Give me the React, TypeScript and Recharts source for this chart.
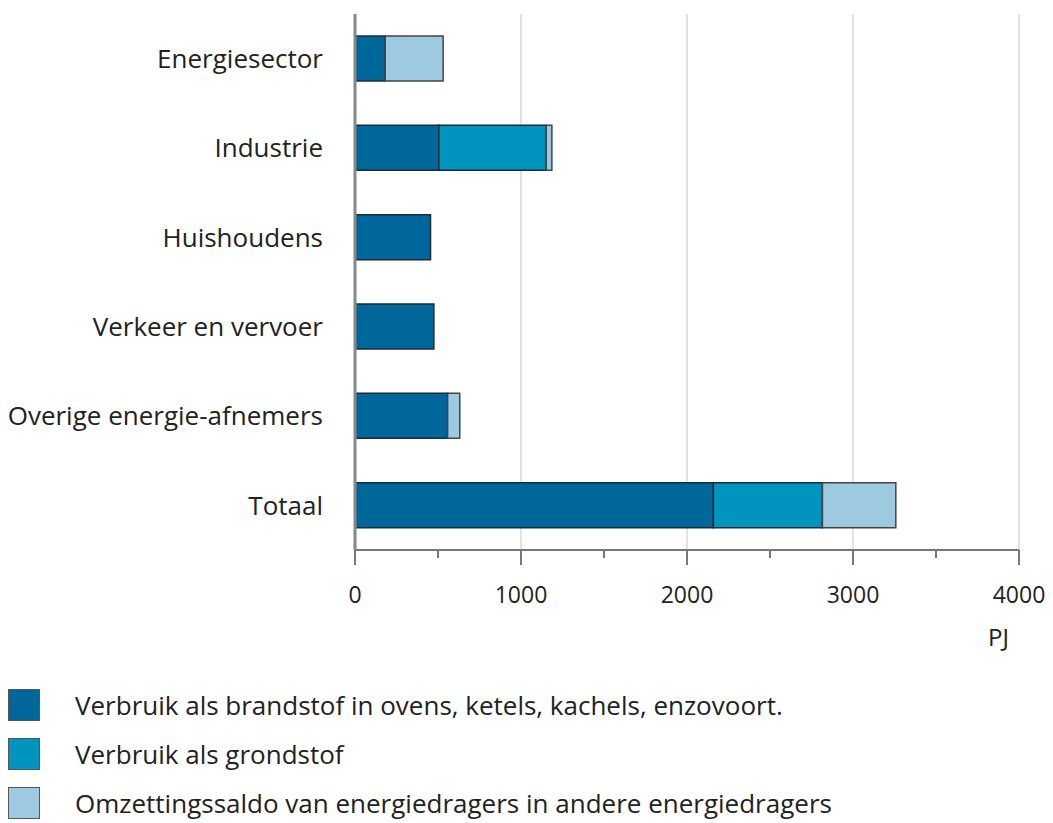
import React from "react";
import {
  BarChart, Bar, XAxis, YAxis, CartesianGrid,
} from "recharts";

document.body.style.margin = "0";

const sectoren = [
  "Energiesector",
  "Industrie",
  "Huishoudens",
  "Verkeer en vervoer",
  "Overige energie-afnemers",
  "Totaal",
];
const brandstof = [182, 505, 455, 475, 558, 2159];
const grondstof = [0, 647, 0, 0, 0, 657];
const omzetting = [349, 34, 0, 0, 73, 442];

const xTicks = [0, 500, 1000, 1500, 2000, 2500, 3000, 3500, 4000];
const xLabels = ["0", "1000", "2000", "3000", "4000"];
const gridValues = [1000, 2000, 3000, 4000];

const legendItems = [
  { name: "Verbruik als brandstof in ovens, ketels, kachels, enzovoort.", color: "#00679b" },
  { name: "Verbruik als grondstof", color: "#0094bf" },
  { name: "Omzettingssaldo van energiedragers in andere energiedragers", color: "#9ecae1" },
];

const data = sectoren.map((s, i) => ({
  sector: s,
  brandstof: brandstof[i],
  grondstof: grondstof[i],
  omzetting: omzetting[i],
}));

const FONT = "'Open Sans', sans-serif";

function XTick(props: any) {
  const { x, y, payload } = props;
  const label = xLabels.includes(String(payload.value));
  return (
    <g>
      <line x1={x} x2={x} y1={y} y2={y + (label ? 15 : 8)} stroke="#777" strokeWidth={2} />
      {label && (
        <text x={x} y={y + 53} textAnchor="middle" fontSize={23} fill="#222" fontFamily={FONT}>
          {payload.value}
        </text>
      )}
    </g>
  );
}

export default function App() {
  return (
    <div style={{ position: "relative", width: 1053, height: 823, background: "#fff", fontFamily: FONT }}>
      <BarChart
        width={1053}
        height={660}
        data={data}
        layout="vertical"
        margin={{ top: 14, right: 34, bottom: 50, left: 0 }}
        barSize={45}
      >
        <CartesianGrid horizontal={false} verticalValues={gridValues} stroke="#e2e2e2" strokeWidth={2} />
        <XAxis
          type="number"
          domain={[0, 4000]}
          ticks={xTicks}
          interval={0}
          height={60}
          tickSize={0}
          tickMargin={0}
          tick={<XTick />}
          axisLine={{ stroke: "#777", strokeWidth: 2 }}
        />
        <YAxis
          type="category"
          dataKey="sector"
          width={355}
          tickLine={false}
          tickSize={0}
          tickMargin={32}
          axisLine={{ stroke: "#888", strokeWidth: 3 }}
          tick={{ fontSize: 26, fill: "#222", fontFamily: FONT }}
        />
        <Bar dataKey="brandstof" stackId="a" fill="#00679b" stroke="#1c2b38" strokeWidth={1.5} isAnimationActive={false} />
        <Bar dataKey="grondstof" stackId="a" fill="#0094bf" stroke="#1c2b38" strokeWidth={1.5} isAnimationActive={false} />
        <Bar dataKey="omzetting" stackId="a" fill="#9ecae1" stroke="#444" strokeWidth={1.5} isAnimationActive={false} />
      </BarChart>
      <div style={{ position: "absolute", left: 988, top: 620, fontSize: 24, color: "#222" }}>PJ</div>
      <div style={{ position: "absolute", left: 8, top: 680 }}>
        {legendItems.map((it) => (
          <div key={it.name} style={{ display: "flex", alignItems: "center", height: 49 }}>
            <div
              style={{
                width: 32,
                height: 32,
                background: it.color,
                border: "1.5px solid #555",
                boxSizing: "border-box",
                marginRight: 35,
              }}
            />
            <span style={{ fontSize: 26, color: "#222", whiteSpace: "nowrap" }}>{it.name}</span>
          </div>
        ))}
      </div>
    </div>
  );
}
